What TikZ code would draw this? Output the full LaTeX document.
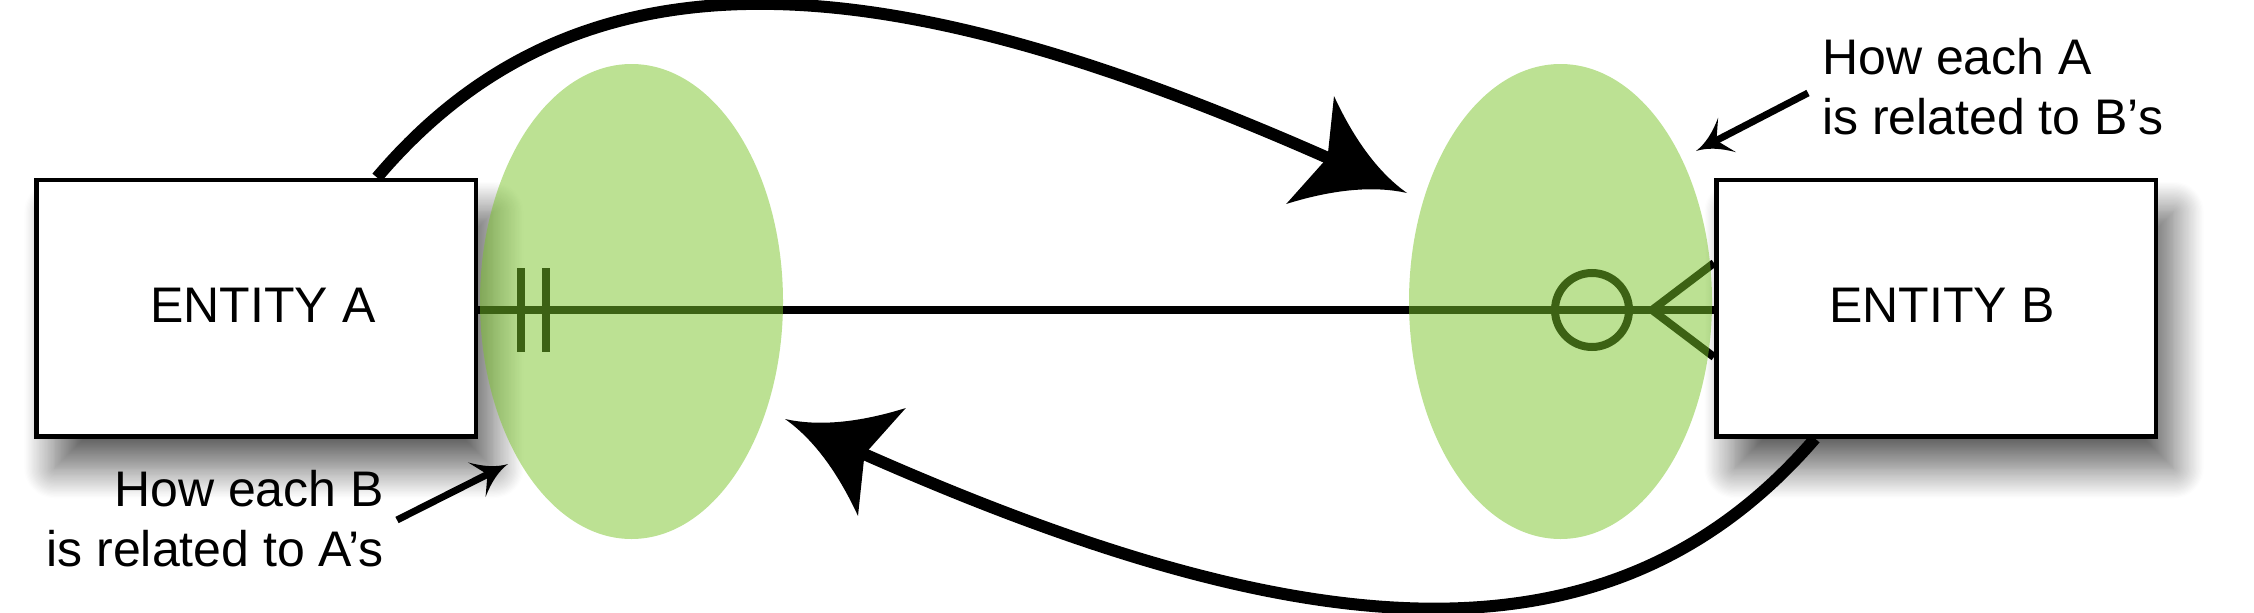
\documentclass[tikz,border=0pt]{standalone}
\usepackage{fontspec}
\setmainfont{Liberation Sans}
\usetikzlibrary{arrows.meta,shapes.geometric,shadows.blur}

\pgfdeclarearrow{
  name = BigSw,
  setup code = {
    \pgfarrowssettipend{0pt}
    \pgfarrowssetbackend{-106pt}
    \pgfarrowssetlineend{-82pt}
    \pgfarrowshullpoint{0pt}{0pt}
    \pgfarrowshullpoint{-106pt}{59pt}
    \pgfarrowshullpoint{-106pt}{-59pt}
  },
  drawing code = {
    \pgfpathmoveto{\pgfqpoint{0pt}{0pt}}
    \pgfpathquadraticcurveto{\pgfqpoint{-50pt}{10pt}}{\pgfqpoint{-106pt}{59pt}}
    \pgfpathlineto{\pgfqpoint{-87pt}{0pt}}
    \pgfpathlineto{\pgfqpoint{-106pt}{-59pt}}
    \pgfpathquadraticcurveto{\pgfqpoint{-50pt}{-10pt}}{\pgfqpoint{0pt}{0pt}}
    \pgfpathclose
    \pgfusepathqfill
  }
}

\pgfdeclarearrow{
  name = SmSw,
  setup code = {
    \pgfarrowssettipend{0pt}
    \pgfarrowssetbackend{-35pt}
    \pgfarrowssetlineend{-19pt}
    \pgfarrowshullpoint{0pt}{0pt}
    \pgfarrowshullpoint{-35pt}{19.5pt}
    \pgfarrowshullpoint{-35pt}{-19.5pt}
  },
  drawing code = {
    \pgfpathmoveto{\pgfqpoint{0pt}{0pt}}
    \pgfpathquadraticcurveto{\pgfqpoint{-17pt}{3pt}}{\pgfqpoint{-35pt}{19.5pt}}
    \pgfpathlineto{\pgfqpoint{-23pt}{0pt}}
    \pgfpathlineto{\pgfqpoint{-35pt}{-19.5pt}}
    \pgfpathquadraticcurveto{\pgfqpoint{-17pt}{-3pt}}{\pgfqpoint{0pt}{0pt}}
    \pgfpathclose
    \pgfusepathqfill
  }
}

\definecolor{ellgreen}{RGB}{121,196,40}

\begin{document}
\begin{tikzpicture}[x=1pt,y=-1pt,
  entity/.style={draw=black, line width=4.5pt, fill=white,
    minimum width=439.5pt, minimum height=256.5pt, inner sep=0pt,
    blur shadow={shadow xshift=18pt, shadow yshift=-32pt,
      shadow blur radius=30pt, shadow blur steps=25, shadow opacity=62}},
  enttext/.style={font=\fontsize{50}{60}\selectfont, inner sep=0pt},
  note/.style={font=\fontsize{50}{60}\selectfont, inner sep=0pt},
  rel/.style={ellipse, draw=none, fill=ellgreen, fill opacity=0.5,
    inner sep=0pt, minimum width=303pt, minimum height=475pt},
  sym/.style={line width=8pt, draw=black},
  flow/.style={line width=12pt, arrows={-BigSw}},
  pointer/.style={line width=7pt, arrows={-SmSw}}
]
\useasboundingbox (0,0) rectangle (2254,613);

% entities
\node[entity] (A) at (256,308) {};
\node[entity] (B) at (1936,308) {};

% relationship line and symbols
\coordinate (la) at ([yshift=-2pt]A.east);
\coordinate (lb) at ([yshift=-2pt]B.west);
\draw[line width=7.5pt] (la) -- (lb);
\draw[sym] ([xshift=43pt,yshift=42pt]la) -- ([xshift=43pt,yshift=-42pt]la);
\draw[sym] ([xshift=68pt,yshift=42pt]la) -- ([xshift=68pt,yshift=-42pt]la);
\draw[sym] ([xshift=-122pt]lb) circle[radius=37pt];
\draw[sym] ([yshift=47pt]lb) -- ([xshift=-62pt]lb) -- ([yshift=-47pt]lb);

% highlight ellipses
\node[rel] (EA) at (631.5,301.5) {};
\node[rel] (EB) at (1560.5,301.5) {};

% labels
\node[enttext] (tA) at ([xshift=7pt,yshift=3pt]A.center) {ENTITY A};
\node[enttext] (tB) at ([xshift=6pt,yshift=3pt]B.center) {ENTITY B};
\node[note, align=right, anchor=north east] (nB) at (384,470) {How each B\\is related to A’s};
\node[note, align=left, anchor=north west] (nA) at (1822,38) {How each A\\is related to B’s};

% big curved arrows
\coordinate (tipA) at (1407,193);
\coordinate (tipB) at (785,419);
\draw[flow] ([xshift=121pt]A.north) .. controls (585,-68) and (895,-34) .. (tipA);
\draw[flow] ([xshift=-121pt]B.south) .. controls (1607,680) and (1297,646) .. (tipB);

% pointers
\coordinate (pA0) at (397,520);
\coordinate (pA1) at (508,464);
\draw[pointer] (pA0) -- (pA1);
\coordinate (pB0) at (1808,93);
\coordinate (pB1) at (1696,151);
\draw[pointer] (pB0) -- (pB1);
\end{tikzpicture}
\end{document}
